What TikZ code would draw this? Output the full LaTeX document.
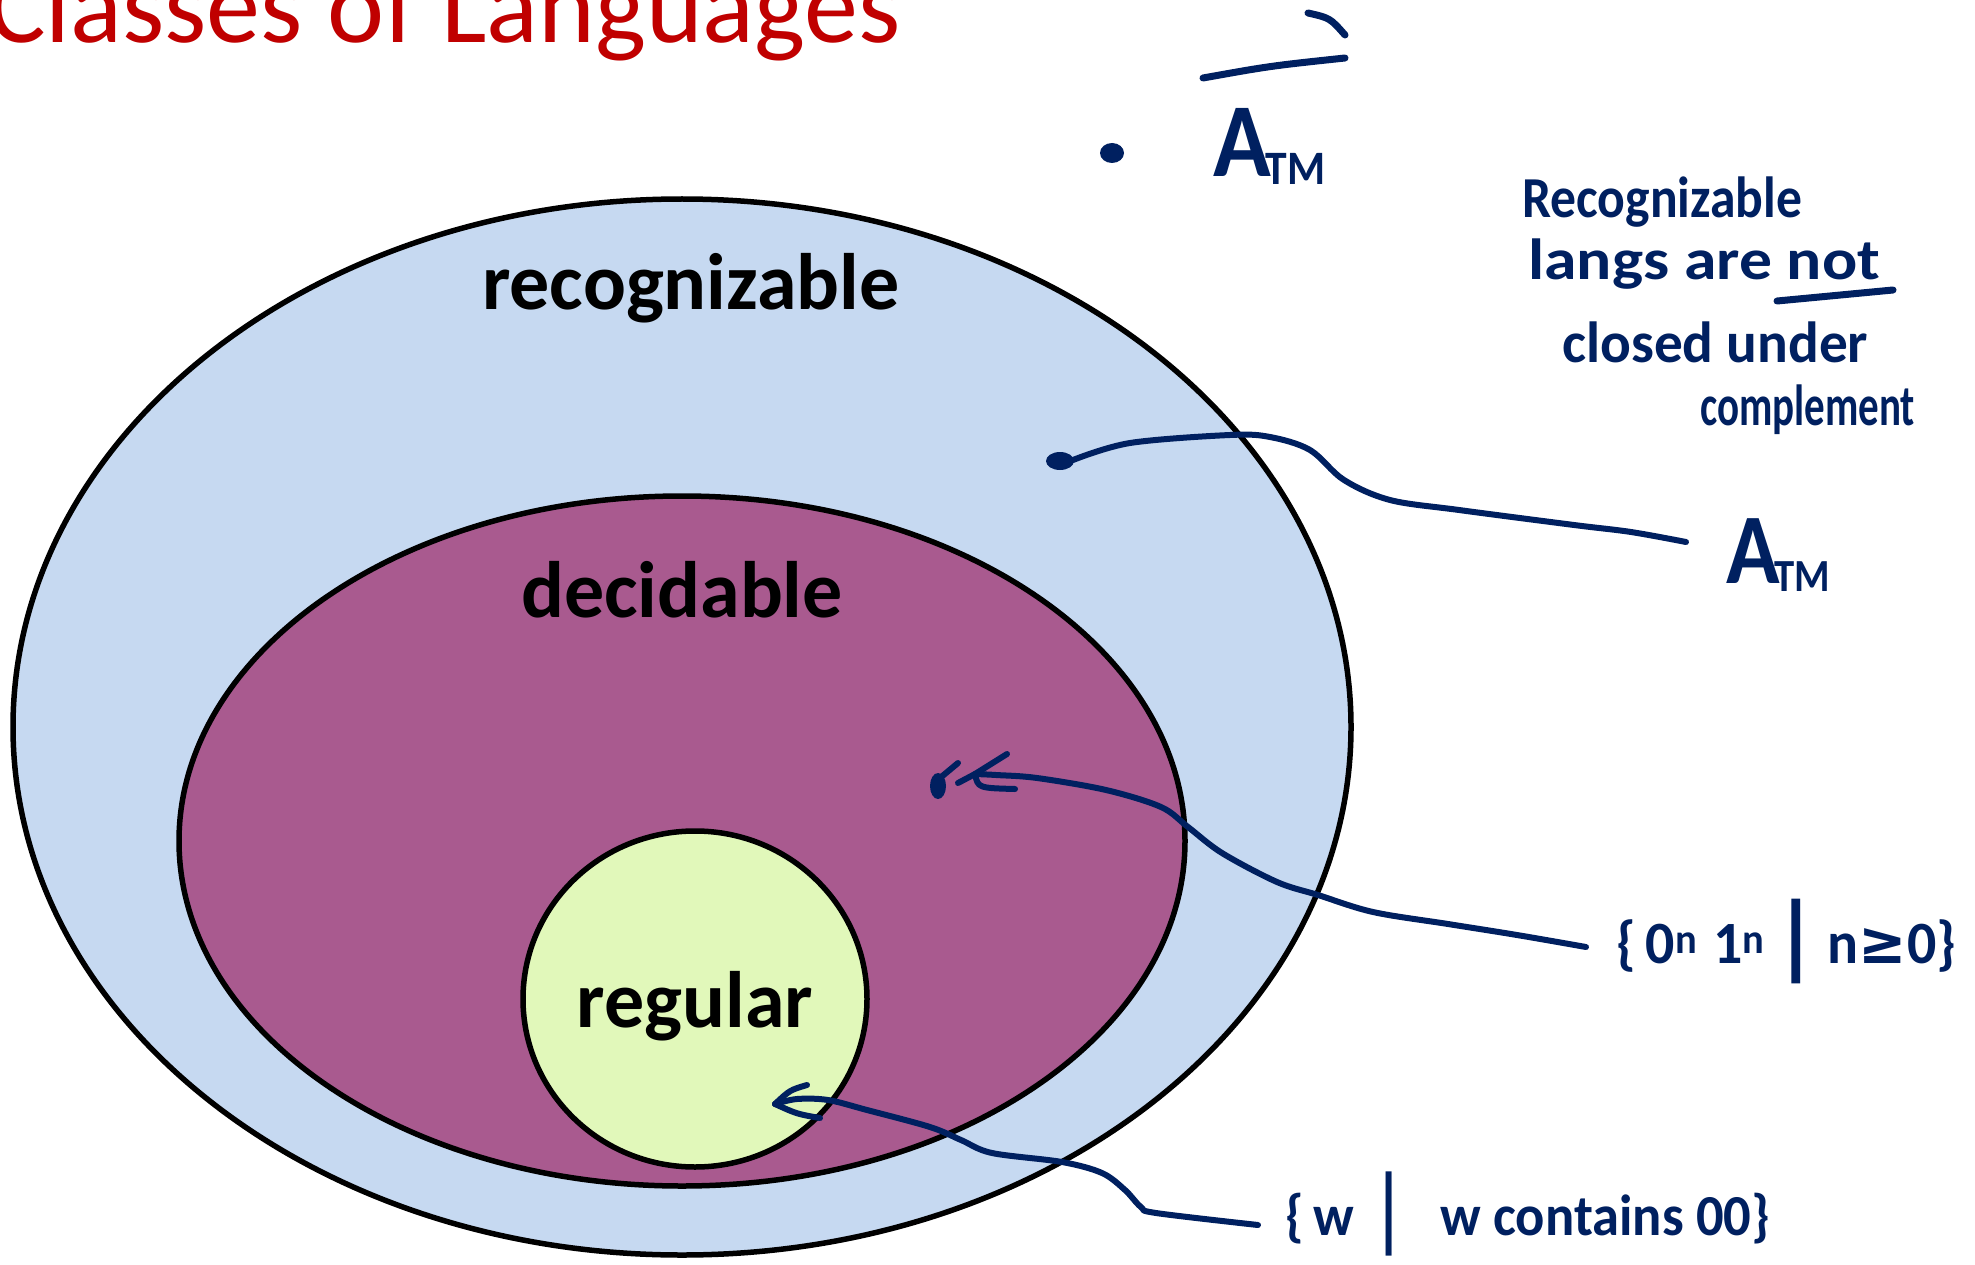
\documentclass[tikz,border=0pt]{standalone}
\usepackage{fontspec}
\setmainfont{Carlito}
\newfontfamily\symfont{DejaVu Sans}
\usepackage{graphicx}
\definecolor{navy}{HTML}{002060}
\definecolor{recblue}{HTML}{C6D9F1}
\definecolor{decpurple}{HTML}{A95A8F}
\definecolor{reggreen}{HTML}{E1F8BA}
\definecolor{titlered}{HTML}{C00000}
\tikzset{
  setshape/.style={draw=black, line width=5.5pt},
  setlabel/.style={anchor=base, inner sep=0pt, font=\bfseries\fontsize{80}{96}\selectfont},
  hand/.style={draw=navy, line width=6pt, line cap=round, line join=round},
  handmark/.style={draw=navy, line width=7pt, line cap=round, line join=round},
  handtext/.style={anchor=base west, inner sep=0pt, text=navy},
}
\newcommand{\hwfit}[2]{\resizebox{#1}{\height}{#2}}
\newcommand{\AtmText}[2]{{\fontsize{#1}{#1}\selectfont A}\kern-6pt\raisebox{-8pt}{\fontsize{#2}{#2}\selectfont TM}}
\begin{document}
\begin{tikzpicture}[x=1pt,y=-1pt]
\useasboundingbox (0,0) rectangle (1975,1265);
\clip (0,0) rectangle (1975,1265);
\fill[white] (0,0) rectangle (1975,1265);

% title
\node[anchor=base west, inner sep=0pt, text=titlered, font=\fontsize{108}{110}\selectfont] (title) at (-12,43) {Classes of Languages};

% sets
\path[setshape, fill=recblue] (682,727) ellipse [x radius=669, y radius=528];
\path[setshape, fill=decpurple] (682,841) ellipse [x radius=503, y radius=345];
\path[setshape, fill=reggreen] (695,999) ellipse [x radius=172, y radius=168];

\node[setlabel] (rec) at (691,309) {recognizable};
\node[setlabel] (dec) at (682,617) {decidable};
\node[setlabel] (reg) at (695,1027) {regular};

% top: complement of A_TM
\fill[navy] (1112,153) ellipse [x radius=12, y radius=10];
\node[handtext, font=\bfseries] (atmtop) at (1213,177) {\hwfit{112pt}{\AtmText{105}{48}}};
\draw[handmark] (1203,78) .. controls (1270,66) .. (1345,58);
\draw[handmark] (1308,13) .. controls (1330,18) .. (1345,35);

% note
\node[handtext, font=\bfseries\fontsize{58}{60}\selectfont] (note1) at (1522,218) {\hwfit{280pt}{Recognizable}};
\node[handtext, font=\bfseries\fontsize{58}{60}\selectfont] (note2) at (1528,280) {\hwfit{352pt}{langs are not}};
\node[handtext, font=\bfseries\fontsize{58}{60}\selectfont] (note3) at (1562,362) {\hwfit{306pt}{closed under}};
\node[handtext, font=\bfseries\fontsize{58}{60}\selectfont] (note4) at (1700,425) {\hwfit{215pt}{complement}};
\draw[handmark] (1777,301) .. controls (1830,296) .. (1893,290);

% A_TM label and connector
\node[handtext, font=\bfseries] (atmright) at (1726,583) {\hwfit{104pt}{\AtmText{100}{46}}};
\coordinate (tmdot) at (1073,460);
\coordinate (atmend) at (1686,542);
\fill[navy] (1060,461) ellipse [x radius=14, y radius=9];
\draw[hand] plot[smooth, tension=0.55] coordinates {(tmdot) (1130,443) (1230,435) (1270,437) (1310,450) (1344,480) (1390,500) (1459,510) (1574,525) (1631,532) (atmend)};

% {0^n 1^n | n >= 0}
\node[handtext, font=\bfseries\fontsize{60}{62}\selectfont] (anbn) at (1616,963) {\hwfit{340pt}{\{\,0\textsuperscript{n}\;1\textsuperscript{n}\,\raisebox{-5pt}{\fontsize{95}{95}\selectfont|}\,n{\symfont ≥}0\}}};
\coordinate (anbnend) at (1586,947);
\coordinate (tip2) at (975,774);
\draw[hand] plot[smooth, tension=0.55] coordinates {(anbnend) (1517,935) (1448,924) (1373,912) (1318,895) (1277,882) (1222,853) (1188,827) (1161,807) (1106,790) (1037,778) (996,775) (tip2)};
\draw[hand] (958,783) -- (tip2) -- (1007,754);
\draw[hand] (tip2) .. controls (978,788) .. (1015,789);
\fill[navy] (938,786) ellipse [x radius=8, y radius=13];
\draw[hand] (940,778) -- (958,763);

% {w | w contains 00}
\node[handtext, font=\bfseries\fontsize{58}{60}\selectfont] (cont) at (1285,1235) {\hwfit{485pt}{\{\,w\;\raisebox{-5pt}{\fontsize{95}{95}\mdseries\selectfont|}\;\;w contains 00\}}};
\coordinate (contend) at (1258,1225);
\coordinate (tip3) at (775,1104);
\draw[hand] plot[smooth, tension=0.55] coordinates {(contend) (1156,1213) (1141,1207) (1125,1190) (1102,1173) (1062,1162) (992,1153) (961,1140) (930,1127) (867,1110) (828,1100) (797,1099) (tip3)};
\draw[hand] (tip3) .. controls (790,1090) .. (807,1085);
\draw[hand] (tip3) .. controls (797,1114) .. (820,1118);
\end{tikzpicture}
\end{document}
